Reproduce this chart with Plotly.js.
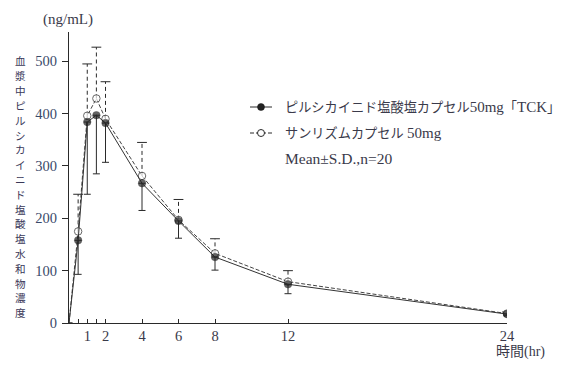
<!DOCTYPE html>
<html>
<head>
<meta charset="utf-8">
<script src="https://cdn.plot.ly/plotly-3.0.1.min.js"></script>
<style>html,body{margin:0;padding:0;background:#fff;}</style>
</head>
<body>
<div id="chart" style="width:563px;height:372px;"></div>
<script>
// ---- data ----
const times = [0, 0.5, 1, 1.5, 2, 4, 6, 8, 12, 24];
const meanTCK = [0, 158, 384, 397, 382, 267, 195, 126, 74, 17];
const sdTCK   = [0, 65, 138, 112, 75, 52, 33, 25, 18, 3];
const meanSun = [0, 175, 396, 429, 390, 281, 197, 133, 79, 18];
const sdSun   = [0, 71, 99, 98, 71, 64, 39, 28, 21, 3];
const xTickVals = [0.5, 1, 1.5, 2, 4, 6, 8, 12, 24];
const xTickText = ['', '1', '', '2', '4', '6', '8', '12', '24'];
const yTickVals = [0, 100, 200, 300, 400, 500];
const nameTCK = 'ピルシカイニド塩酸塩カプセル<span style="font-size:15px">50mg</span>「<span style="font-size:15px">TCK</span>」';
const nameSun = 'サンリズムカプセル <span style="font-size:15px">50mg</span>';
const noteText = 'Mean±S.D.,n=20';
const yTitle = '血漿中ピルシカイニド塩酸塩水和物濃度';
const unitText = '(ng/mL)';
const xTitle = '時間(hr)';

const FONT = 'Liberation Serif, "Noto Sans CJK JP", serif';
const INK = '#2a2a2a';
const TXT = '#3a3a4a';

const markerSizes = times.map(t => t === 0 ? 0 : 7.5);

// dashed upper error bars for the open-circle series
const stemX = [], stemY = [], capX = [], capY = [];
times.forEach((t, i) => {
  if (t === 0) return;
  stemX.push(t, t, null);
  stemY.push(meanSun[i], meanSun[i] + sdSun[i], null);
  capX.push(t);
  capY.push(meanSun[i] + sdSun[i]);
});

const traces = [
  {
    x: stemX, y: stemY, mode: 'lines', type: 'scatter', showlegend: false,
    line: {color: INK, width: 1, dash: '4px,3px'}, hoverinfo: 'skip'
  },
  {
    x: capX, y: capY, mode: 'markers', type: 'scatter', showlegend: false,
    marker: {symbol: 'line-ew', size: 7, line: {color: INK, width: 1}}, hoverinfo: 'skip'
  },
  {
    x: times, y: meanSun, mode: 'lines+markers', type: 'scatter', name: 'サンリズムカプセル 50mg',
    line: {color: '#444', width: 1, dash: '4px,2px'},
    marker: {symbol: 'circle', size: markerSizes, color: '#ffffff', line: {color: INK, width: 1}}
  },
  {
    x: times, y: meanTCK, mode: 'lines+markers', type: 'scatter', name: 'ピルシカイニド塩酸塩カプセル50mg「TCK」',
    line: {color: '#333', width: 1},
    marker: {symbol: 'circle', size: markerSizes, color: '#222222', line: {color: '#111', width: 0.5}},
    error_y: {type: 'data', symmetric: false, array: times.map(() => 0), arrayminus: sdTCK,
              width: 3.5, thickness: 1, color: INK}
  }
];

const L = 69, R = 56, T = 32, B = 49, W = 563, H = 372;
const pw = W - L - R, ph = H - T - B;
const px2x = px => (px - L) / pw;
const py2y = py => (H - B - py) / ph;

const annotations = [];
// vertical y-axis title, one character per line
const chars = Array.from(yTitle);
chars.forEach((c, i) => {
  annotations.push({
    text: c, xref: 'paper', yref: 'paper', x: px2x(20), y: py2y(61 + i * 14.8),
    xanchor: 'center', yanchor: 'middle', showarrow: false, borderpad: 0,
    font: {family: '"Noto Sans CJK JP", sans-serif', size: 10.6, color: '#3a3858'}
  });
});
annotations.push({
  text: unitText, xref: 'paper', yref: 'paper', x: px2x(68), y: py2y(20),
  xanchor: 'center', yanchor: 'middle', showarrow: false,
  font: {family: FONT, size: 15, color: TXT}
});
annotations.push({
  text: xTitle, xref: 'paper', yref: 'paper', x: px2x(520), y: py2y(352),
  xanchor: 'center', yanchor: 'middle', showarrow: false,
  font: {family: FONT, size: 14, color: TXT}
});
// legend texts
annotations.push({
  text: nameTCK, xref: 'paper', yref: 'paper', x: px2x(283), y: py2y(107),
  xanchor: 'left', yanchor: 'middle', showarrow: false,
  font: {family: FONT, size: 13.2, color: TXT}
});
annotations.push({
  text: nameSun, xref: 'paper', yref: 'paper', x: px2x(283), y: py2y(133),
  xanchor: 'left', yanchor: 'middle', showarrow: false,
  font: {family: FONT, size: 13.2, color: TXT}
});
annotations.push({
  text: noteText, xref: 'paper', yref: 'paper', x: px2x(283), y: py2y(158),
  xanchor: 'left', yanchor: 'middle', showarrow: false,
  font: {family: FONT, size: 15.5, color: TXT}
});

// legend sample symbols
const shapes = [
  {type: 'line', xref: 'paper', yref: 'paper', x0: px2x(250), x1: px2x(272), y0: py2y(107), y1: py2y(107),
   line: {color: INK, width: 1}},
  {type: 'circle', xref: 'paper', yref: 'paper', x0: px2x(257.5), x1: px2x(264.5), y0: py2y(103.5), y1: py2y(110.5),
   fillcolor: '#222', line: {color: '#111', width: 0.5}},
  {type: 'line', xref: 'paper', yref: 'paper', x0: px2x(250), x1: px2x(272), y0: py2y(133), y1: py2y(133),
   line: {color: INK, width: 1, dash: '4px,2px'}},
  {type: 'circle', xref: 'paper', yref: 'paper', x0: px2x(257.5), x1: px2x(264.5), y0: py2y(129.5), y1: py2y(136.5),
   fillcolor: '#fff', line: {color: INK, width: 1}}
];

const layout = {
  width: W, height: H,
  margin: {l: L, r: R, t: T, b: B, pad: 0},
  paper_bgcolor: '#fff', plot_bgcolor: '#fff',
  showlegend: false,
  font: {family: FONT, color: TXT},
  xaxis: {
    range: [0, 24], tickmode: 'array', tickvals: xTickVals, ticktext: xTickText,
    ticks: 'inside', ticklen: 4, tickwidth: 1, tickcolor: INK,
    showline: true, linecolor: INK, linewidth: 1, showgrid: false, zeroline: false,
    tickfont: {family: FONT, size: 14.5, color: TXT}, ticklabelstandoff: 0
  },
  yaxis: {
    range: [0, 556], tickmode: 'array', tickvals: yTickVals,
    ticks: 'outside', ticklen: 6, tickwidth: 1, tickcolor: INK,
    showline: true, linecolor: INK, linewidth: 1, showgrid: false, zeroline: false,
    tickfont: {family: FONT, size: 14.5, color: '#3a4a6a'}, ticklabelstandoff: 2
  },
  annotations: annotations,
  shapes: shapes
};

Plotly.newPlot('chart', traces, layout, {displayModeBar: false, staticPlot: true});
</script>
</body>
</html>
